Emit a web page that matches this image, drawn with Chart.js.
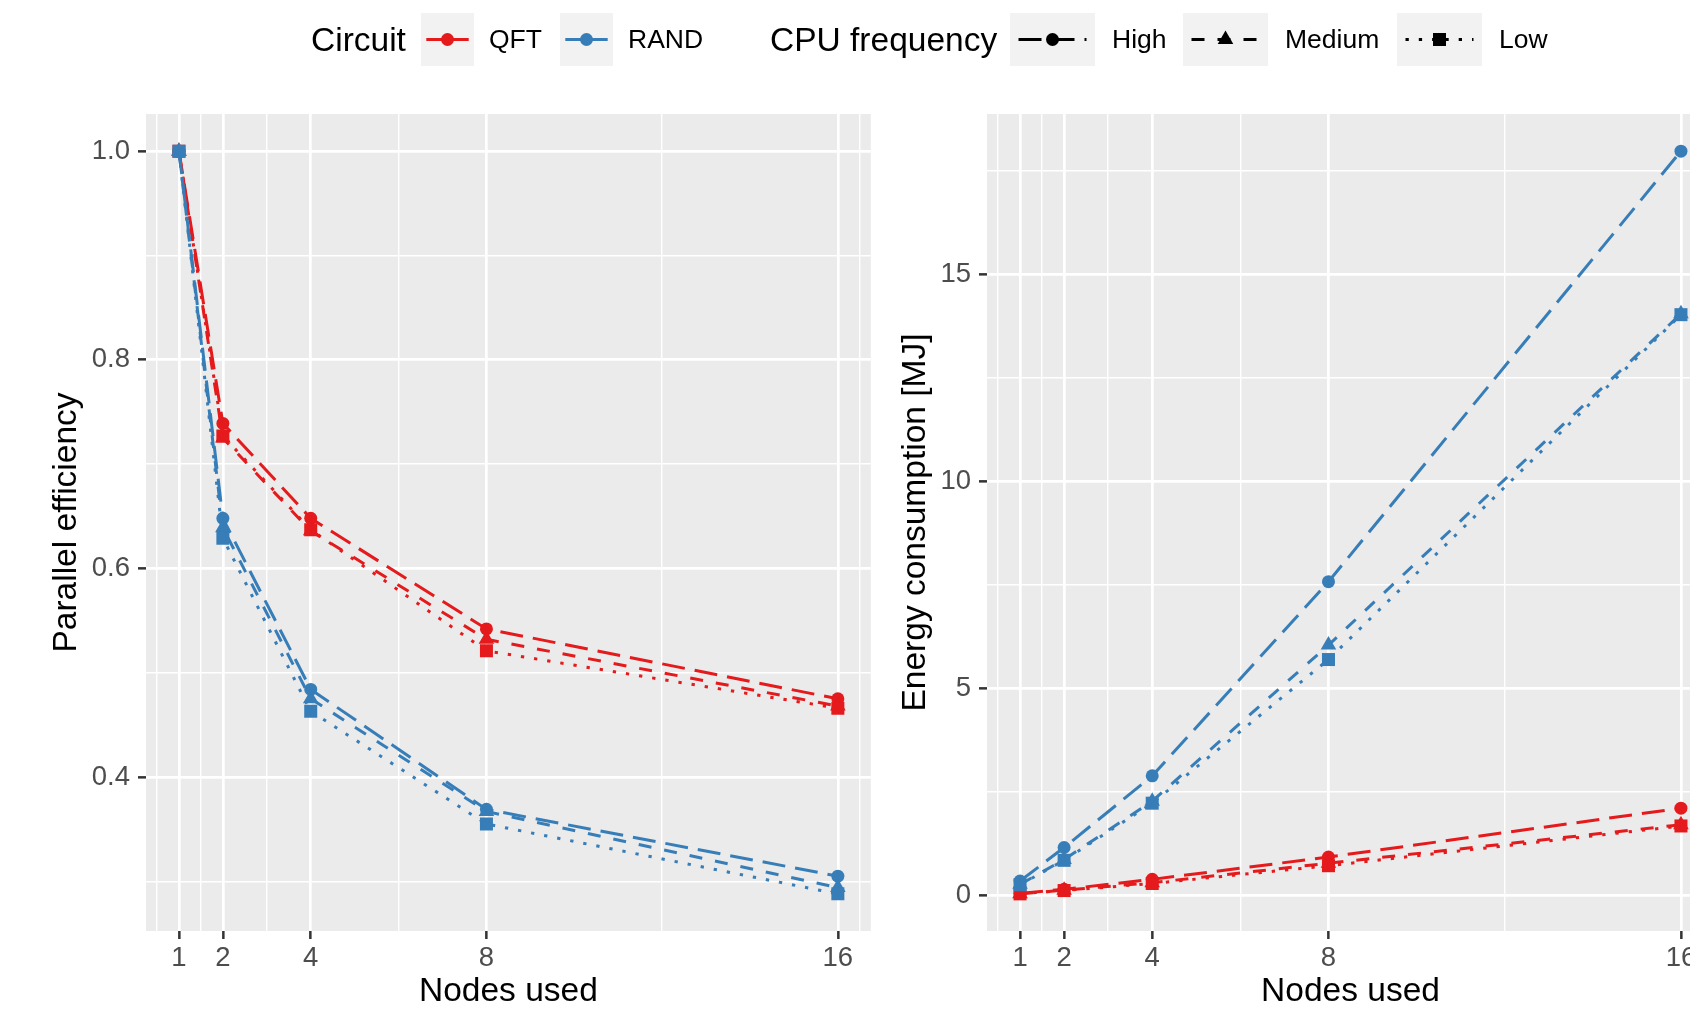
<!DOCTYPE html>
<html>
<head>
<meta charset="utf-8">
<script src="https://cdn.jsdelivr.net/npm/chart.js@4.4.1/dist/chart.umd.min.js"></script>
<style>
  html, body { margin: 0; padding: 0; background: #fff; overflow: hidden; }
  #page { position: relative; width: 1690px; height: 1018px; overflow: hidden; font-family: "Liberation Sans", Arial, sans-serif; }
  canvas.plot { position: absolute; top: 0; }
  .lg { position: absolute; top: 13px; height: 53px; display: flex; align-items: center; white-space: nowrap; color: #000; }
  .lg.title { font-size: 33.5px; }
  .lg.label { font-size: 26.5px; }
  canvas.key { position: absolute; top: 13px; }
</style>
</head>
<body>
<div id="page">
  <canvas id="effChart" class="plot" width="880" height="1018" style="left:0px"></canvas>
  <canvas id="energyChart" class="plot" width="846" height="1018" style="left:880px"></canvas>

  <div class="lg title" style="left:311px">Circuit</div>
  <canvas id="keyQFT" class="key" width="53" height="53" style="left:421px"></canvas>
  <div class="lg label" style="left:489px">QFT</div>
  <canvas id="keyRAND" class="key" width="53" height="53" style="left:560px"></canvas>
  <div class="lg label" style="left:628px">RAND</div>

  <div class="lg title" style="left:770px">CPU frequency</div>
  <canvas id="keyHigh" class="key" width="85" height="53" style="left:1010px"></canvas>
  <div class="lg label" style="left:1112px">High</div>
  <canvas id="keyMedium" class="key" width="85" height="53" style="left:1183px"></canvas>
  <div class="lg label" style="left:1285px">Medium</div>
  <canvas id="keyLow" class="key" width="85" height="53" style="left:1397px"></canvas>
  <div class="lg label" style="left:1499px">Low</div>
</div>
<script>
// data
var nodes = [1, 2, 4, 8, 16];

var effQftHigh   = [1.0, 0.739, 0.648, 0.542, 0.475];
var effQftMedium = [1.0, 0.725, 0.636, 0.532, 0.468];
var effQftLow    = [1.0, 0.727, 0.637, 0.521, 0.466];
var effRandHigh   = [1.0, 0.648, 0.484, 0.369, 0.305];
var effRandMedium = [1.0, 0.639, 0.475, 0.367, 0.294];
var effRandLow    = [1.0, 0.629, 0.463, 0.355, 0.288];

var energyQftHigh   = [0.05, 0.15, 0.39, 0.93, 2.11];
var energyQftMedium = [0.04, 0.13, 0.31, 0.78, 1.71];
var energyQftLow    = [0.04, 0.12, 0.29, 0.72, 1.68];
var energyRandHigh   = [0.35, 1.16, 2.89, 7.58, 17.98];
var energyRandMedium = [0.27, 0.87, 2.28, 6.05, 14.05];
var energyRandLow    = [0.26, 0.85, 2.23, 5.70, 14.03];

// axis ticks (major + ggplot-style minor grid)
var xMajor = [1, 2, 4, 8, 16];
var xMinor = [0.5, 1.5, 3, 6, 12, 16.5];
var effMajor = [0.4, 0.6, 0.8, 1.0];
var effMinor = [0.3, 0.5, 0.7, 0.9];
var energyMajor = [0, 5, 10, 15];
var energyMinor = [2.5, 7.5, 12.5, 17.5];

var QFT_COL = '#E41A1C';
var RAND_COL = '#377EB8';
var LW = 3;
var dashes = { High: [23, 10], Medium: [13, 13], Low: [3.3, 10] };
var shapes = { High: ['circle', 6.5], Medium: ['triangle', 9], Low: ['rect', 9.2] };

Chart.defaults.font.family = '"Liberation Sans", Arial, sans-serif';

var panelBg = {
  id: 'panelBg',
  beforeDraw: function(chart) {
    var a = chart.chartArea, ctx = chart.ctx;
    ctx.save();
    ctx.fillStyle = '#EBEBEB';
    ctx.fillRect(a.left, a.top, a.right - a.left, a.bottom - a.top);
    ctx.restore();
  }
};

function series(label, values, color, freq) {
  return {
    label: label,
    data: nodes.map(function(n, i) { return { x: n, y: values[i] }; }),
    borderColor: color,
    backgroundColor: color,
    borderWidth: LW,
    borderDash: dashes[freq],
    pointStyle: shapes[freq][0],
    pointRadius: shapes[freq][1],
    pointHoverRadius: shapes[freq][1],
    pointBorderWidth: 0,
    pointBackgroundColor: color,
    tension: 0,
    fill: false
  };
}

function isIn(list, v) {
  return list.some(function(m) { return Math.abs(m - v) < 1e-9; });
}

function makeChart(id, opts) {
  var allY = opts.major.concat(opts.minor);
  var ctx = document.getElementById(id).getContext('2d');
  return new Chart(ctx, {
    type: 'line',
    data: { datasets: opts.datasets },
    plugins: [panelBg],
    options: {
      responsive: false,
      animation: false,
      devicePixelRatio: 1,
      layout: { padding: { top: 114, right: opts.padRight, left: 0, bottom: 0 } },
      plugins: { legend: { display: false }, tooltip: { enabled: false } },
      scales: {
        x: {
          type: 'linear',
          min: 0.25,
          max: 16.75,
          afterBuildTicks: function(s) {
            s.ticks = xMajor.concat(xMinor).sort(function(a, b) { return a - b; })
              .map(function(v) { return { value: v }; });
          },
          afterFit: function(s) { s.height = 87; },
          border: { display: false },
          grid: {
            color: '#FFFFFF',
            lineWidth: function(c) { return isIn(xMajor, c.tick.value) ? 2.7 : 1.4; },
            tickColor: function(c) { return isIn(xMajor, c.tick.value) ? '#333333' : 'rgba(0,0,0,0)'; },
            tickLength: 8,
            tickWidth: 2.5
          },
          ticks: {
            autoSkip: false,
            maxRotation: 0,
            padding: 3,
            color: '#4D4D4D',
            font: { size: 27.5 },
            callback: function(v) { return isIn(xMajor, v) ? String(v) : ''; }
          },
          title: {
            display: true,
            text: 'Nodes used',
            color: '#000000',
            font: { size: 33.5 },
            padding: { top: 0, bottom: 6 }
          }
        },
        y: {
          type: 'linear',
          min: opts.yMin,
          max: opts.yMax,
          afterBuildTicks: function(s) {
            s.ticks = allY.slice().sort(function(a, b) { return a - b; })
              .map(function(v) { return { value: v }; });
          },
          afterFit: function(s) { s.width = opts.yWidth; },
          border: { display: false },
          grid: {
            color: '#FFFFFF',
            lineWidth: function(c) { return isIn(opts.major, c.tick.value) ? 2.7 : 1.4; },
            tickColor: function(c) { return isIn(opts.major, c.tick.value) ? '#333333' : 'rgba(0,0,0,0)'; },
            tickLength: 8,
            tickWidth: 2.5
          },
          ticks: {
            autoSkip: false,
            padding: 8,
            color: '#4D4D4D',
            font: { size: 27.5 },
            callback: function(v) { return isIn(opts.major, v) ? opts.fmt(v) : ''; }
          },
          title: {
            display: true,
            text: opts.yTitle,
            color: '#000000',
            font: { size: 33.5 },
            padding: { top: opts.titlePad, bottom: 0 }
          }
        }
      }
    }
  });
}

makeChart('effChart', {
  datasets: [
    series('RAND Low', effRandLow, RAND_COL, 'Low'),
    series('RAND Medium', effRandMedium, RAND_COL, 'Medium'),
    series('RAND High', effRandHigh, RAND_COL, 'High'),
    series('QFT Low', effQftLow, QFT_COL, 'Low'),
    series('QFT Medium', effQftMedium, QFT_COL, 'Medium'),
    series('QFT High', effQftHigh, QFT_COL, 'High')
  ],
  major: effMajor, minor: effMinor,
  yMin: 0.2524, yMax: 1.0356,
  yWidth: 146, padRight: 9, titlePad: 47,
  yTitle: 'Parallel efficiency',
  fmt: function(v) { return v.toFixed(1); }
});

makeChart('energyChart', {
  datasets: [
    series('RAND Low', energyRandLow, RAND_COL, 'Low'),
    series('RAND Medium', energyRandMedium, RAND_COL, 'Medium'),
    series('RAND High', energyRandHigh, RAND_COL, 'High'),
    series('QFT Low', energyQftLow, QFT_COL, 'Low'),
    series('QFT Medium', energyQftMedium, QFT_COL, 'Medium'),
    series('QFT High', energyQftHigh, QFT_COL, 'High')
  ],
  major: energyMajor, minor: energyMinor,
  yMin: -0.857, yMax: 18.877,
  yWidth: 107, padRight: 12, titlePad: 16,
  yTitle: 'Energy consumption [MJ]',
  fmt: function(v) { return String(v); }
});

// legend keys (ggplot style grey boxes)
function drawShape(ctx, shape, r, x, y) {
  ctx.beginPath();
  if (shape === 'circle') {
    ctx.arc(x, y, r, 0, Math.PI * 2);
  } else if (shape === 'triangle') {
    ctx.moveTo(x, y - r);
    ctx.lineTo(x + r * Math.sin(Math.PI * 2 / 3), y + r / 2);
    ctx.lineTo(x - r * Math.sin(Math.PI * 2 / 3), y + r / 2);
    ctx.closePath();
  } else {
    var h = r * Math.SQRT1_2;
    ctx.rect(x - h, y - h, 2 * h, 2 * h);
  }
  ctx.fill();
}

function drawKey(id, color, dash, shape) {
  var c = document.getElementById(id);
  var ctx = c.getContext('2d');
  ctx.fillStyle = '#F2F2F2';
  ctx.fillRect(0, 0, c.width, c.height);
  ctx.strokeStyle = color;
  ctx.lineWidth = LW;
  ctx.setLineDash(dash);
  ctx.beginPath();
  ctx.moveTo(c.width * 0.1, c.height / 2);
  ctx.lineTo(c.width * 0.9, c.height / 2);
  ctx.stroke();
  ctx.setLineDash([]);
  ctx.fillStyle = color;
  drawShape(ctx, shape[0], shape[1], c.width / 2, c.height / 2);
}

drawKey('keyQFT', QFT_COL, [], shapes.High);
drawKey('keyRAND', RAND_COL, [], shapes.High);
drawKey('keyHigh', '#000000', dashes.High, shapes.High);
drawKey('keyMedium', '#000000', dashes.Medium, shapes.Medium);
drawKey('keyLow', '#000000', dashes.Low, shapes.Low);
</script>
</body>
</html>
